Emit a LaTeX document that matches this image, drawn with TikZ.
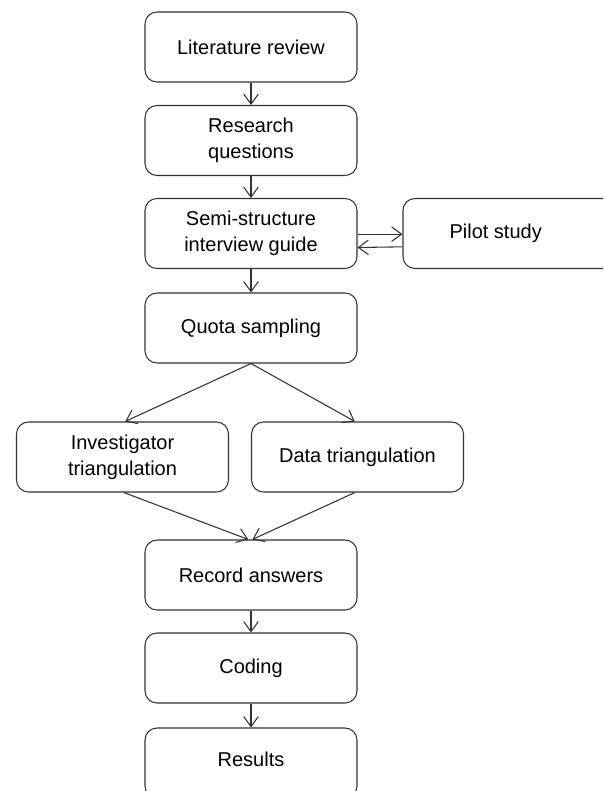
\documentclass[tikz,border=0pt]{standalone}
\usepackage{fontspec}
\setmainfont{Liberation Sans}
\usetikzlibrary{arrows.meta}
\tikzset{
  box/.style={draw=black!80, line width=0.8pt, rounded corners=9pt, minimum width=159pt,
    minimum height=52.5pt, align=center, font=\fontsize{15}{19.5}\selectfont, inner sep=2pt},
  arr/.style={draw=black!80, line width=0.8pt, -{Straight Barb[length=7.5pt,width=11pt]}}
}
\begin{document}
\begin{tikzpicture}[x=0.75pt,y=-0.75pt]
            \useasboundingbox (0,0) rectangle (603,791);
            \clip (0,0) rectangle (603,791);
            \node[box] (lit) at (251,47) {Literature review};
            \node[box] (rq) at (251,140.5) {Research\\questions};
            \node[box] (guide) at (251,233.5) {Semi-structure\\interview guide};
            \node[box] (pilot) at (509,233.5) {\hspace*{-20pt}Pilot study};
            \node[box] (quota) at (251,328) {Quota sampling};
            \node[box] (inv) at (122.5,457) {Investigator\\triangulation};
            \node[box] (data) at (357.5,457) {Data triangulation};
            \node[box] (rec) at (251,575) {Record answers};
            \node[box] (cod) at (251,668) {Coding};
            \node[box] (res) at (251,763) {\raisebox{6pt}{Results}};
            \foreach \a/\b in {lit/rq,rq/guide,guide/quota,rec/cod,cod/res}{
              \draw[arr] (\a) -- (\b);
              }
            \draw[arr] ([yshift=-0.5pt]guide.east) -- ([yshift=-0.5pt]pilot.west);
            \draw[arr] ([yshift=-10pt]pilot.west) -- ([yshift=-10.5pt]guide.east);
            \draw[arr] (quota.south) -- ([xshift=2pt]inv.north);
            \draw[arr] (quota.south) -- ([xshift=-2pt]data.north);
            \draw[arr] ([xshift=1pt]inv.south) -- ([xshift=-2pt]rec.north);
            \draw[arr] ([xshift=-2pt]data.south) -- ([xshift=1pt]rec.north);
          \end{tikzpicture}
\end{document}
